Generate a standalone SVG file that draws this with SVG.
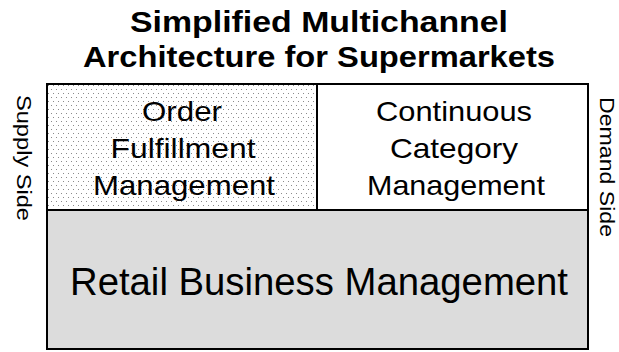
<svg xmlns="http://www.w3.org/2000/svg" width="619" height="352" viewBox="0 0 619 352">
  <style>
    text { font-family: "Liberation Sans", Arial, sans-serif; fill: #000; }
    .title { font-size: 30px; font-weight: bold; }
    .box { font-size: 28px; text-anchor: middle; }
    .big { font-size: 38px; text-anchor: middle; }
    .side { font-size: 20px; }
    .edge { fill: none; stroke: #000; stroke-width: 2; }
  </style>
  <defs>
    <pattern id="dots" x="0" y="0" width="5" height="8" patternUnits="userSpaceOnUse">
      <rect x="0" y="0" width="5" height="8" fill="#ffffff"/>
      <rect x="1" y="1" width="1" height="1" fill="#8c8c8c"/>
      <rect x="3" y="5" width="1" height="1" fill="#8c8c8c"/>
    </pattern>
  </defs>
  <rect width="619" height="352" fill="#ffffff"/>

  <g id="title">
    <text class="title" x="130" y="32" textLength="378" lengthAdjust="spacingAndGlyphs">Simplified Multichannel</text>
    <text class="title" x="83" y="67" textLength="472" lengthAdjust="spacingAndGlyphs">Architecture for Supermarkets</text>
  </g>

  <g id="supply-side">
    <text class="side" transform="translate(17,95) rotate(90)" x="0" y="0" textLength="126" lengthAdjust="spacingAndGlyphs">Supply Side</text>
  </g>
  <g id="demand-side">
    <text class="side" transform="translate(600,97) rotate(90)" x="0" y="0" textLength="140" lengthAdjust="spacingAndGlyphs">Demand Side</text>
  </g>

  <g id="order-fulfillment">
    <rect x="47" y="84" width="270" height="126" fill="url(#dots)"/>
    <text class="box" x="182" y="121" textLength="80" lengthAdjust="spacingAndGlyphs">Order</text>
    <text class="box" x="183" y="158" textLength="145" lengthAdjust="spacingAndGlyphs">Fulfillment</text>
    <text class="box" x="184" y="195" textLength="182" lengthAdjust="spacingAndGlyphs">Management</text>
  </g>

  <g id="continuous-category">
    <rect x="317" y="84" width="271" height="126" fill="#ffffff"/>
    <text class="box" x="454" y="121" textLength="156" lengthAdjust="spacingAndGlyphs">Continuous</text>
    <text class="box" x="454" y="158" textLength="128" lengthAdjust="spacingAndGlyphs">Category</text>
    <text class="box" x="456" y="195" textLength="178" lengthAdjust="spacingAndGlyphs">Management</text>
  </g>

  <g id="retail-business">
    <rect x="47" y="210" width="541" height="139" fill="#dcdcdc"/>
    <text class="big" x="319" y="295" textLength="498" lengthAdjust="spacingAndGlyphs">Retail Business Management</text>
  </g>

  <g id="connectors">
    <rect class="edge" x="47" y="84" width="541" height="265"/>
    <line class="edge" x1="317" y1="84" x2="317" y2="210"/>
    <line class="edge" x1="47" y1="210" x2="588" y2="210"/>
  </g>
</svg>
